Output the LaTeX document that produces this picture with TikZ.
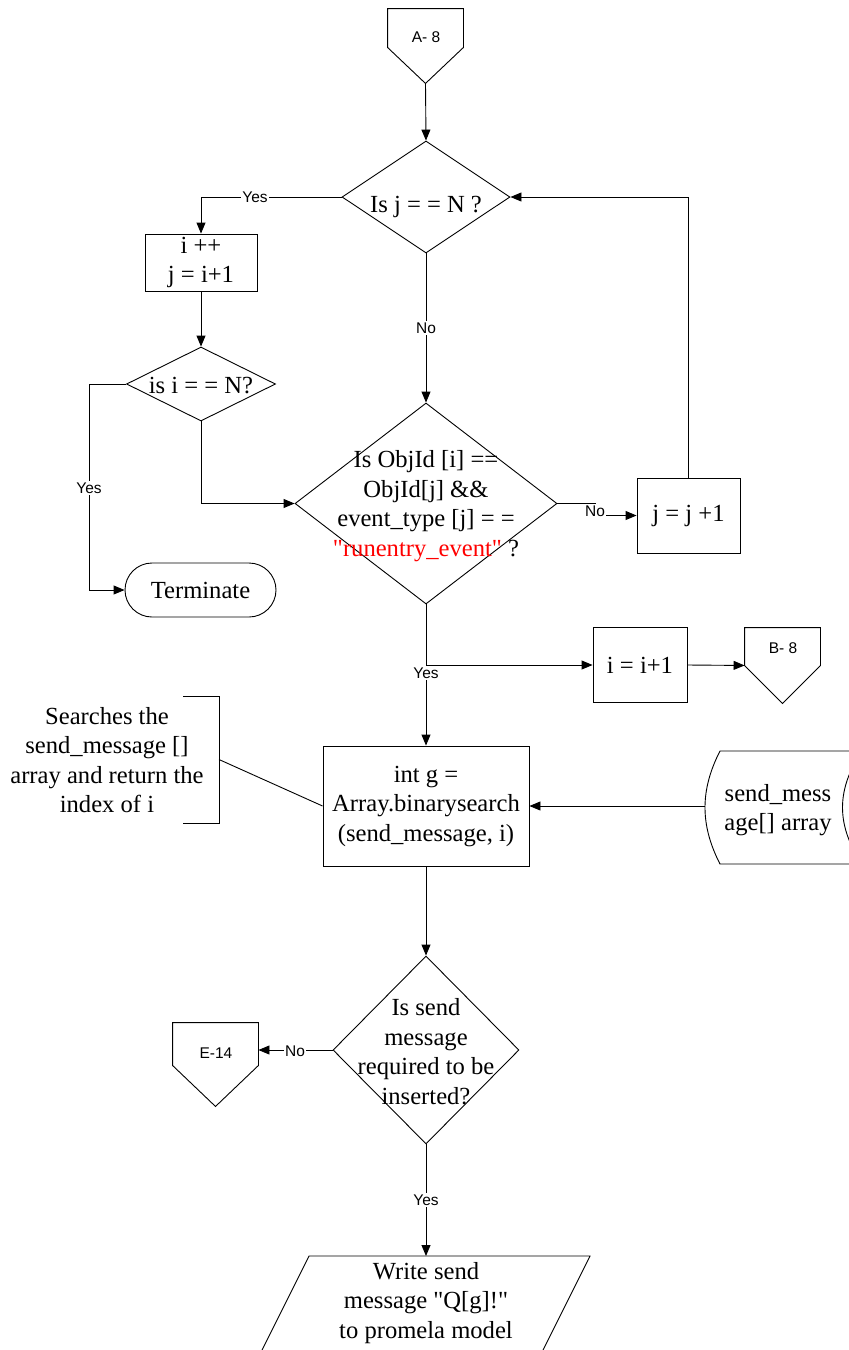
\documentclass[tikz,border=0pt]{standalone}
\usepackage{fontspec}
\setmainfont{Liberation Serif}[Ligatures=TeXOff]
\newfontfamily\lblfont{Liberation Sans}
\usetikzlibrary{arrows.meta,shapes.geometric,shapes.misc,calc}

\begin{document}
\begin{tikzpicture}[x=1pt,y=-1pt,line width=0.9pt,
  bigtext/.style={font=\fontsize{24.6}{29.5}\selectfont},
  proc/.style={draw,rectangle,inner sep=0pt,align=center,bigtext},
  dec/.style={draw,diamond,inner sep=0pt},
  txt/.style={inner sep=0pt,align=center,bigtext},
  lbl/.style={fill=white,inner sep=1.5pt,font=\lblfont\fontsize{15.5}{18}\selectfont},
  contxt/.style={inner sep=0pt,font=\lblfont\fontsize{15.5}{18}\selectfont},
  conbox/.style={inner sep=0pt,minimum width=75pt,minimum height=38pt},
  flow/.style={-{Triangle[length=11pt,width=9pt]}}
]
\clip (0,0) rectangle (849,1350);

% ---------- off-page connector A-8 ----------
\node[conbox] (A8) at (425.5,28) {};
\draw (A8.north west) -- (A8.north east) -- (A8.south east)
  -- ($(A8.south)+(0,36)$) coordinate (A8tip) -- (A8.south west) -- cycle;
\node[contxt] (A8t) at (426,37) {A- 8};

% ---------- decision: j == N ----------
\node[dec,minimum width=168pt,minimum height=112pt] (D1) at (426,197) {};
\node[txt] (D1t) at (426,207) {Is j = = N ?};

% ---------- i++ box ----------
\node[proc,minimum width=112pt,minimum height=57pt] (IB) at (201,262.5) {i ++\\j = i+1};

% ---------- decision: i == N ----------
\node[dec,minimum width=149pt,minimum height=74pt] (D2) at (201,384) {};
\node[txt] (D2t) at (201,386) {is i = = N?};

% ---------- terminator ----------
\node[draw,rounded rectangle,minimum width=151pt,minimum height=54pt,inner sep=0pt,bigtext]
  (T) at (200.5,590) {Terminate};

% ---------- main decision ----------
\node[dec,minimum width=262pt,minimum height=201pt] (DB) at (426,503.5) {};
\node[txt] (DBt) at (426,506) {Is ObjId [i] ==\\ObjId[j] \&\&\\event\_type [j] = =\\
  \textcolor{red}{"runentry\_event"} ?};

% ---------- j = j + 1 ----------
\node[proc,minimum width=103pt,minimum height=75pt] (J) at (688.5,515.5) {j = j +1};

% ---------- i = i + 1 and B-8 ----------
\node[proc,minimum width=94pt,minimum height=75pt] (I1) at (640,665) {i = i+1};
\node[conbox,minimum height=37pt] (B8) at (782.5,646.5) {};
\draw (B8.north west) -- (B8.north east) -- (B8.south east)
  -- ($(B8.south)+(0,38)$) -- (B8.south west) -- cycle;
\node[contxt] (B8t) at (783,648) {B- 8};

% ---------- binary search ----------
\node[proc,minimum width=206pt,minimum height=120pt] (BS) at (426,806)
  {int g =\\Array.binarysearch\\(send\_message, i)};

% ---------- annotation ----------
\draw (183,696) -- (219,696) -- (219,823) -- (183,823);
\coordinate (brk) at (219,759.5);
\node[txt] (ann) at (107,760) {Searches the\\send\_message []\\array and return the\\index of i};

% ---------- stored data ----------
\draw (862,751) -- (720,751) .. controls (700,790) and (700,825) .. (720,864) -- (862,864);
\draw (862,751) .. controls (836,790) and (836,825) .. (862,864);
\coordinate (SDl) at (705,806);
\node[txt] (SD) at (778,810) {send\_mess\\age[] array};

% ---------- decision: insert send message ----------
\node[dec,minimum width=186pt,minimum height=188pt] (D3) at (426,1050) {};
\node[txt] (D3t) at (426,1051.5) {Is send\\message\\required to be\\inserted?};

% ---------- off-page connector E-14 ----------
\node[conbox,minimum width=85pt,minimum height=42pt] (E14) at (215.5,1044) {};
\draw (E14.north west) -- (E14.north east) -- (E14.south east)
  -- ($(E14.south)+(0,41)$) -- (E14.south west) -- cycle;
\node[contxt] (E14t) at (216,1053) {E-14};

% ---------- output ----------
\draw (309,1256) -- (590,1256) -- (528,1380) -- (247,1380) -- cycle;
\coordinate (Wtop) at (426,1256);
\node[txt] (W) at (426,1303) {Write send\\message "Q[g]!"\\to promela model};

% ---------- connectors ----------
\draw[flow] (A8tip) -- (D1.north);
\draw[flow] (D1.west) -| (IB.north);
\node[lbl] (yes1) at (255,197) {Yes};
\draw[flow] (D1.south) -- (DB.north);
\node[lbl] (no1) at (426,328) {No};
\draw[flow] (IB.south) -- (D2.north);
\draw[flow] (D2.west) -- (89,384) |- (T.west);
\node[lbl] (yes2) at (89,488) {Yes};
\draw[flow] (D2.south) |- (DB.west);
\draw[flow] (DB.east) -- (595,503.5) -- (595,515.5) -- (J.west);
\node[lbl] (no2) at (595,511) {No};
\draw[flow] (J.north) |- (D1.east);
\draw[flow] (DB.south) -- (BS.north);
\draw[flow] (DB.south |- I1.west) -- (I1.west);
\node[lbl] (yes3) at (426,673) {Yes};
\draw[flow] (I1.east) -- (B8.south west);
\draw (brk) -- (BS.west);
\draw[flow] (SDl) -- (BS.east);
\draw[flow] (BS.south) -- (D3.north);
\draw[flow] (D3.west) -- (D3.west -| E14.east);
\node[lbl] (no3) at (295,1051) {No};
\draw[flow] (D3.south) -- (Wtop);
\node[lbl] (yes4) at (426,1200) {Yes};
\end{tikzpicture}
\end{document}
